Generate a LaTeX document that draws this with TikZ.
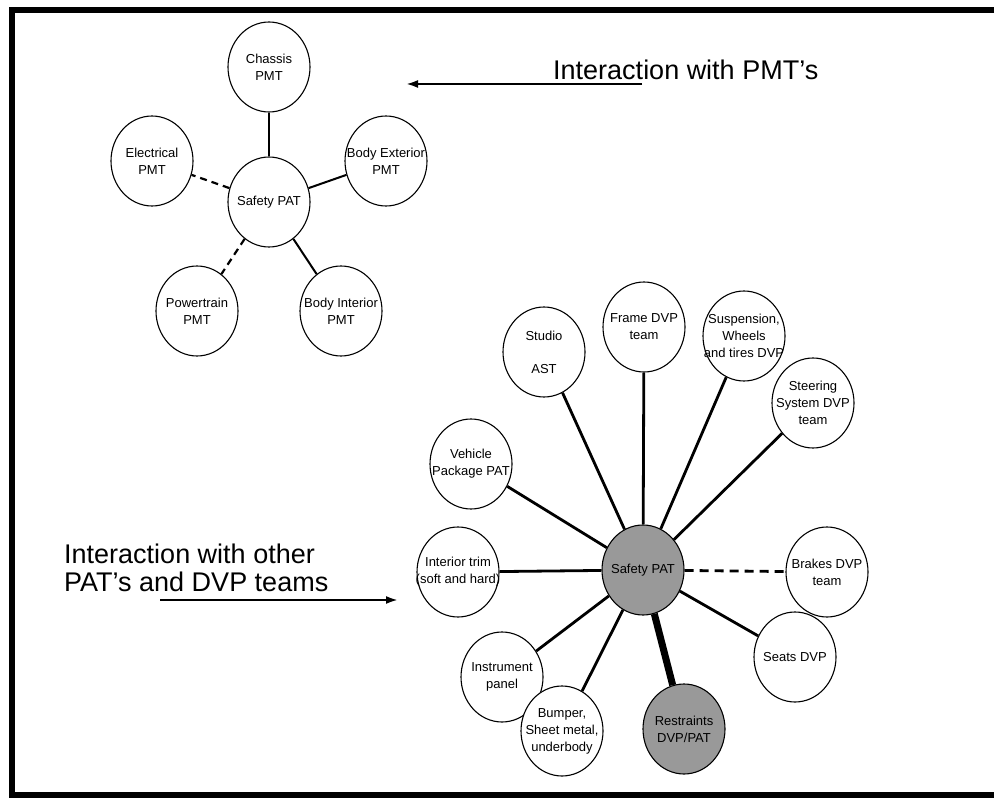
\documentclass[tikz,border=0pt]{standalone}
\usepackage{fontspec}
\setmainfont{Liberation Sans}
\usetikzlibrary{shapes.geometric,arrows.meta}
\begin{document}
\begin{tikzpicture}[x=1pt,y=-1pt,
  bub/.style={draw, line width=1.1pt, ellipse, minimum width=82pt, minimum height=90pt, inner sep=0pt, fill=white},
  hub/.style={bub, fill=black!40},
  lbl/.style={font=\fontsize{13}{17}\selectfont, align=center, inner sep=0pt},
  thin link/.style={line width=2pt},
  thin dash/.style={line width=2.2pt, dash pattern=on 7pt off 5pt},
  link/.style={line width=2.8pt},
  dlink/.style={line width=2.8pt, dash pattern=on 9pt off 6pt},
  big/.style={font=\fontsize{27}{28}\selectfont, align=left, inner sep=0pt},
  pointer/.style={line width=2.2pt, -{Latex[length=12pt,width=8pt]}}
]
\useasboundingbox (0,0) rectangle (995,799);
% frame: open on the right-hand side
\draw[line width=6pt] (994,10) -- (12,10) -- (12,795) -- (994,795);

% --- PMT cluster ---
\node[bub, label={[lbl]center:{Safety PAT}}] (spat) at (269,202) {};
\node[bub, label={[lbl]center:{Chassis\\PMT}}] (chassis) at (269,67) {};
\node[bub, label={[lbl]center:{Electrical\\PMT}}] (elec) at (152,161) {};
\node[bub, label={[lbl]center:{Body Exterior\\PMT}}] (bext) at (386,161) {};
\node[bub, label={[lbl]center:{Powertrain\\PMT}}] (ptrain) at (197,311) {};
\node[bub, label={[lbl]center:{Body Interior\\PMT}}] (bint) at (341,311) {};

\draw[thin link] (spat) -- (chassis);
\draw[thin link] (spat) -- (bext);
\draw[thin link] (spat) -- (bint);
\draw[thin dash] (spat) -- (elec);
\draw[thin dash] (spat) -- (ptrain);

% --- PAT / DVP cluster ---
\node[hub, label={[lbl]center:{Safety PAT}}] (hub) at (643,570) {};
\node[bub, label={[lbl]center:{Frame DVP\\team}}] (frame) at (644,327) {};
\node[bub, label={[lbl]center:{Studio\\[16pt]AST}}] (studio) at (544,352) {};
\node[bub, label={[lbl]center:{Suspension,\\Wheels\\and tires DVP}}] (susp) at (744,336) {};
\node[bub, label={[lbl]center:{Vehicle\\Package PAT}}] (vpack) at (471,464) {};
\node[bub, label={[lbl]center:{Steering\\System DVP\\team}}] (steer) at (813,403) {};
\node[bub, label={[lbl]center:{Brakes DVP\\team}}] (brakes) at (827,572) {};
\node[bub, label={[lbl]center:{Interior trim\\(soft and hard)}}] (trim) at (458,572) {};
\node[bub, label={[lbl]center:{Seats DVP}}] (seats) at (795,657) {};
\node[bub, label={[lbl]center:{Instrument\\panel}}] (instr) at (502,677) {};
\node[bub, label={[lbl]center:{Bumper,\\Sheet metal,\\underbody}}] (bumper) at (562,731) {};
\node[hub, label={[lbl]center:{Restraints\\DVP/PAT}}] (restr) at (684,729) {};

\draw[link] (hub) -- (frame);
\draw[link] (hub) -- (studio);
\draw[link] (hub) -- (susp);
\draw[link] (hub) -- (vpack);
\draw[link] (hub) -- (steer);
\draw[link] (hub) -- (trim);
\draw[link] (hub) -- (seats);
\draw[link] (hub) -- (instr);
\draw[link] (hub) -- (bumper);
\draw[dlink] (hub) -- (brakes);
\draw[line width=7pt] (hub) -- (restr);

% --- captions with pointers ---
\node[big, anchor=base west] (cap1) at (553,80) {Interaction with PMT’s};
\coordinate (c1from) at (642,84);
\coordinate (c1to) at (406,84);
\draw[pointer] (c1from) -- (c1to);

\node[big, anchor=west] (cap2) at (64,568) {Interaction with other\\PAT’s and DVP teams};
\coordinate (c2from) at (160,600);
\coordinate (c2to) at (398,600);
\draw[pointer] (c2from) -- (c2to);
\end{tikzpicture}
\end{document}
